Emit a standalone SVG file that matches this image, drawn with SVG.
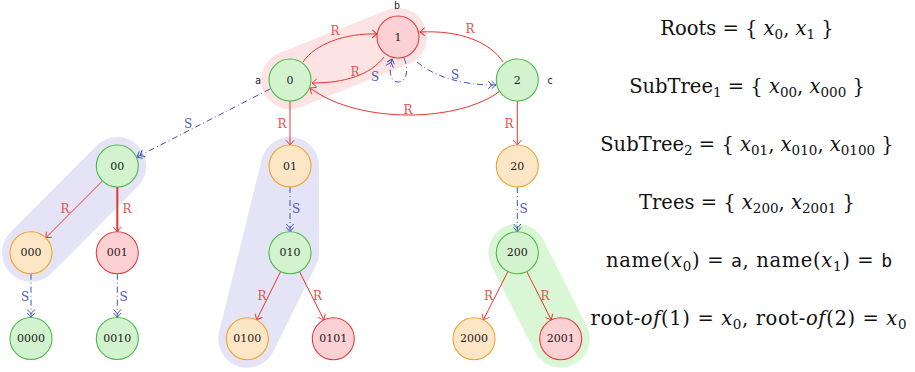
<svg xmlns="http://www.w3.org/2000/svg" width="915" height="372" viewBox="0 0 915 372">
<defs>
<style>
.bg{fill:#ffffff}
.hp{stroke:#fde3e4;fill:#fde3e4;stroke-width:58;stroke-linecap:round;stroke-linejoin:round}
.hb{stroke:#e4e4f6;fill:#e4e4f6;stroke-width:58;stroke-linecap:round;stroke-linejoin:round}
.hg{stroke:#d9f7d4;fill:#d9f7d4;stroke-width:58;stroke-linecap:round;stroke-linejoin:round}
.g circle{fill:#d3f3cf;stroke:#4ab84a;stroke-width:1.1}
.o circle{fill:#fde6c6;stroke:#f0a22a;stroke-width:1.1}
.r circle{fill:#fdd0d3;stroke:#e33b3b;stroke-width:1.1}
.nl{font-family:"DejaVu Serif","Liberation Serif",serif;font-size:11px;fill:#222;text-anchor:middle;dominant-baseline:central}
.tt{font-family:"DejaVu Sans Mono","Liberation Mono",monospace;font-size:10px;fill:#222;text-anchor:middle}
.er{fill:none;stroke:#e6352e;stroke-width:1;marker-end:url(#ar)}
.es{fill:none;stroke:#3f51b5;stroke-width:1;stroke-dasharray:6 3 1 3;marker-end:url(#as)}
.lr{font-family:"DejaVu Serif","Liberation Serif",serif;font-size:12px;fill:#e65550;text-anchor:middle;dominant-baseline:central}
.ls{font-family:"DejaVu Serif","Liberation Serif",serif;font-size:12px;fill:#4a5bb8;text-anchor:middle;dominant-baseline:central}
.f{font-family:"DejaVu Serif","Liberation Serif",serif;font-size:19.5px;fill:#111;text-anchor:middle}
.i{font-style:italic}
.sb{font-size:13.5px}
.m{font-family:"DejaVu Sans Mono","Liberation Mono",monospace;font-size:18px}
</style>
<marker id="ar" markerWidth="12" markerHeight="12" refX="0" refY="0" viewBox="-6 -6 12 12" markerUnits="userSpaceOnUse" orient="auto" overflow="visible">
<path d="M-4.5,-3.8 Q-1.2,-0.8 0,0 Q-1.2,0.8 -4.5,3.8" fill="none" stroke="#e6352e" stroke-width="1" stroke-linecap="round"/>
</marker>
<marker id="as" markerWidth="14" markerHeight="12" refX="0" refY="0" viewBox="-10 -6 14 12" markerUnits="userSpaceOnUse" orient="auto" overflow="visible">
<path d="M-4,-3.5 Q-1,-0.8 0,0 Q-1,0.8 -4,3.5 M-7.5,-3.5 Q-4.5,-0.8 -3.5,0 Q-4.5,0.8 -7.5,3.5" fill="none" stroke="#3f51b5" stroke-width="1" stroke-linecap="round"/>
</marker>
</defs>
<rect class="bg" x="0" y="0" width="915" height="372"/>
<g id="highlights">
<line class="hp" x1="290" y1="80" x2="398" y2="37"/>
<line class="hb" x1="117.3" y1="166" x2="31" y2="252.7"/>
<polygon class="hb" points="290,166 290,252.7 247.3,338.7"/>
<line class="hg" x1="517.3" y1="252.7" x2="560.7" y2="338.7"/>
</g>
<g id="connectors">
<path class="er" d="M303,62 C315,44 345,33 377,34"/>
<text class="lr" x="335" y="31">R</text>
<path class="er" d="M384,57 C370,75 345,83 312,83"/>
<text class="lr" x="355" y="72">R</text>
<path class="er" d="M503,62 C490,42 460,30 420,32"/>
<text class="lr" x="470" y="29">R</text>
<path class="er" d="M500,91 C460,122 360,125 310,88"/>
<text class="lr" x="408" y="110">R</text>
<path class="es" d="M404,58 C410,72 405,82 398,82 C391,82 388,72 392,59"/>
<text class="ls" x="375" y="77">S</text>
<path class="es" d="M417,62 Q445,85 496,85"/>
<text class="ls" x="455" y="75">S</text>
<path class="es" d="M270,89 L137,157"/>
<text class="ls" x="188" y="124">S</text>
<path class="er" d="M290,101 L290,145"/>
<text class="lr" x="282" y="124">R</text>
<path class="er" d="M517.3,101 L517.3,145"/>
<text class="lr" x="509" y="124">R</text>
<path class="er" d="M102.5,180.9 L45.8,237.8"/>
<text class="lr" x="65" y="209">R</text>
<path class="er" d="M117.3,187 L117.3,231.7" style="stroke-width:2"/>
<text class="lr" x="127" y="209">R</text>
<path class="es" d="M31,273.7 L31,317.3"/>
<text class="ls" x="25" y="297">S</text>
<path class="es" d="M117.3,273.7 L117.3,317.3"/>
<text class="ls" x="123.5" y="297">S</text>
<path class="es" d="M290,187 L290,231.7"/>
<text class="ls" x="296" y="209">S</text>
<path class="er" d="M280.7,271.5 L256.6,319.9"/>
<text class="lr" x="262" y="296">R</text>
<path class="er" d="M299.4,271.5 L323.9,319.9"/>
<text class="lr" x="317.5" y="296">R</text>
<path class="es" d="M517.3,187 L517.3,231.7"/>
<text class="ls" x="523.5" y="209">S</text>
<path class="er" d="M507.9,271.5 L483.4,319.9"/>
<text class="lr" x="488.5" y="296">R</text>
<path class="er" d="M526.7,271.5 L551.3,319.9"/>
<text class="lr" x="545" y="296">R</text>
</g>
<g id="n0" class="g"><circle cx="290" cy="80" r="21"/><text class="nl" x="290" y="80">0</text><text class="tt" x="258" y="84">a</text></g>
<g id="n1" class="r"><circle cx="398" cy="37" r="21"/><text class="nl" x="398" y="37">1</text><text class="tt" x="397" y="9">b</text></g>
<g id="n2" class="g"><circle cx="517.3" cy="80" r="21"/><text class="nl" x="517.3" y="80">2</text><text class="tt" x="550" y="84">c</text></g>
<g id="n00" class="g"><circle cx="117.3" cy="166" r="21"/><text class="nl" x="117.3" y="166">00</text></g>
<g id="n000" class="o"><circle cx="31" cy="252.7" r="21"/><text class="nl" x="31" y="252.7">000</text></g>
<g id="n001" class="r"><circle cx="117.3" cy="252.7" r="21"/><text class="nl" x="117.3" y="252.7">001</text></g>
<g id="n0000" class="g"><circle cx="31" cy="338.5" r="21"/><text class="nl" x="31" y="338.5">0000</text></g>
<g id="n0010" class="g"><circle cx="117.3" cy="338.5" r="21"/><text class="nl" x="117.3" y="338.5">0010</text></g>
<g id="n01" class="o"><circle cx="290" cy="166" r="21"/><text class="nl" x="290" y="166">01</text></g>
<g id="n010" class="g"><circle cx="290" cy="252.7" r="21"/><text class="nl" x="290" y="252.7">010</text></g>
<g id="n0100" class="o"><circle cx="247.3" cy="338.7" r="21"/><text class="nl" x="247.3" y="338.7">0100</text></g>
<g id="n0101" class="r"><circle cx="333.3" cy="338.7" r="21"/><text class="nl" x="333.3" y="338.7">0101</text></g>
<g id="n20" class="o"><circle cx="517.3" cy="166" r="21"/><text class="nl" x="517.3" y="166">20</text></g>
<g id="n200" class="g"><circle cx="517.3" cy="252.7" r="21"/><text class="nl" x="517.3" y="252.7">200</text></g>
<g id="n2000" class="o"><circle cx="474" cy="338.7" r="21"/><text class="nl" x="474" y="338.7">2000</text></g>
<g id="n2001" class="r"><circle cx="560.7" cy="338.7" r="21"/><text class="nl" x="560.7" y="338.7">2001</text></g>
<g id="formulas">
<text class="f" x="747" y="35">Roots = { <tspan class="i">x</tspan><tspan class="sb" dy="4">0</tspan><tspan dy="-4">, </tspan><tspan class="i">x</tspan><tspan class="sb" dy="4">1</tspan><tspan dy="-4"> }</tspan></text>
<text class="f" x="747" y="93">SubTree<tspan class="sb" dy="4">1</tspan><tspan dy="-4"> = { </tspan><tspan class="i">x</tspan><tspan class="sb" dy="4">00</tspan><tspan dy="-4">, </tspan><tspan class="i">x</tspan><tspan class="sb" dy="4">000</tspan><tspan dy="-4"> }</tspan></text>
<text class="f" x="747" y="151">SubTree<tspan class="sb" dy="4">2</tspan><tspan dy="-4"> = { </tspan><tspan class="i">x</tspan><tspan class="sb" dy="4">01</tspan><tspan dy="-4">, </tspan><tspan class="i">x</tspan><tspan class="sb" dy="4">010</tspan><tspan dy="-4">, </tspan><tspan class="i">x</tspan><tspan class="sb" dy="4">0100</tspan><tspan dy="-4"> }</tspan></text>
<text class="f" x="747" y="209">Trees = { <tspan class="i">x</tspan><tspan class="sb" dy="4">200</tspan><tspan dy="-4">, </tspan><tspan class="i">x</tspan><tspan class="sb" dy="4">2001</tspan><tspan dy="-4"> }</tspan></text>
<text class="f" x="749" y="267" textLength="286" lengthAdjust="spacing">name(<tspan class="i">x</tspan><tspan class="sb" dy="4">0</tspan><tspan dy="-4">) = </tspan><tspan class="m">a</tspan>, name(<tspan class="i">x</tspan><tspan class="sb" dy="4">1</tspan><tspan dy="-4">) = </tspan><tspan class="m">b</tspan></text>
<text class="f" x="748.5" y="325" textLength="316" lengthAdjust="spacing">root-<tspan class="i">of</tspan>(1) = <tspan class="i">x</tspan><tspan class="sb" dy="4">0</tspan><tspan dy="-4">, root-</tspan><tspan class="i">of</tspan>(2) = <tspan class="i">x</tspan><tspan class="sb" dy="4">0</tspan></text>
</g>
</svg>
